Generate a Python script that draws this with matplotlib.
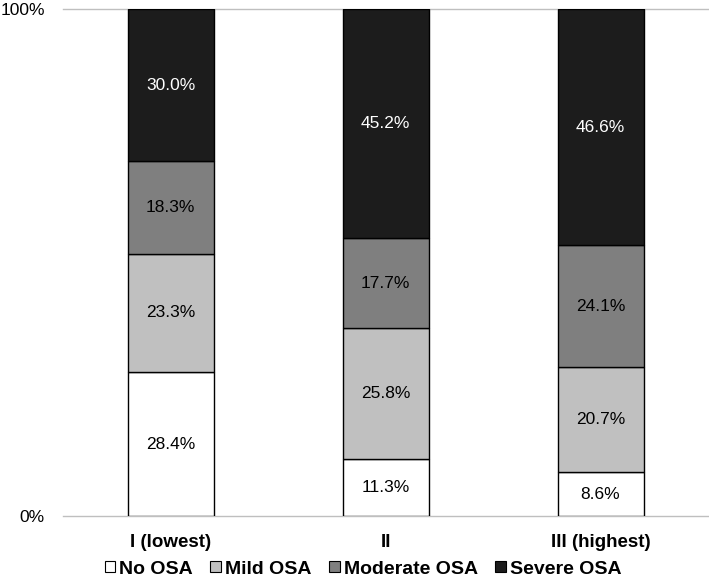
import matplotlib.pyplot as plt
import matplotlib.patches as mpatches

plt.rcParams['font.family'] = ['Liberation Sans', 'DejaVu Sans']

categories = ["I (lowest)", "II", "III (highest)"]
series = ["No OSA", "Mild OSA", "Moderate OSA", "Severe OSA"]
no_osa = [28.4, 11.3, 8.6]
mild_osa = [23.3, 25.8, 20.7]
moderate_osa = [18.3, 17.7, 24.1]
severe_osa = [30.0, 45.2, 46.6]

values = [no_osa, mild_osa, moderate_osa, severe_osa]
colors = ["#FFFFFF", "#C0C0C0", "#7F7F7F", "#1C1C1C"]
text_colors = ["black", "black", "black", "white"]

fig = plt.figure(figsize=(7.09, 5.76), dpi=100)
ax = fig.add_axes([63 / 709, 60 / 576, 645 / 709, 507 / 576])

x = list(range(len(categories)))
bottom = [0, 0, 0]
for vals, col, tcol in zip(values, colors, text_colors):
    ax.bar(x, vals, bottom=bottom, width=0.4, color=col, edgecolor="black",
           linewidth=1, zorder=3)
    for xi, v, b in zip(x, vals, bottom):
        ax.text(xi, b + v / 2, f"{v:.1f}%", ha="center", va="center",
                fontsize=12.5, color=tcol, zorder=4)
    bottom = [b + v for b, v in zip(bottom, vals)]

ax.set_xlim(-0.5, 2.5)
ax.set_ylim(0, 100)
ax.axhline(100, color="#BFBFBF", linewidth=1, zorder=1, clip_on=False)
ax.axhline(0, color="#BFBFBF", linewidth=1, zorder=1, clip_on=False)
for s in ax.spines.values():
    s.set_visible(False)
ax.set_yticks([0, 100])
ax.set_yticklabels(["0%", "100%"], fontsize=12.5)
ax.tick_params(axis="y", length=0, pad=13)
ax.set_xticks(x)
ax.set_xticklabels(categories, fontsize=13.5, fontweight="bold")
ax.tick_params(axis="x", length=0, pad=13)

handles = [mpatches.Patch(facecolor=c, edgecolor="black", linewidth=0.8, label=s)
           for c, s in zip(colors, series)]
fig.legend(handles=handles, loc="center", bbox_to_anchor=(363 / 709, 1 - 569 / 576),
           ncol=4, frameon=False, handlelength=0.55, handleheight=0.55,
           handletextpad=0.2, columnspacing=0.9,
           prop={"size": 14, "weight": "bold"})

fig.savefig("out.png", dpi=100)
